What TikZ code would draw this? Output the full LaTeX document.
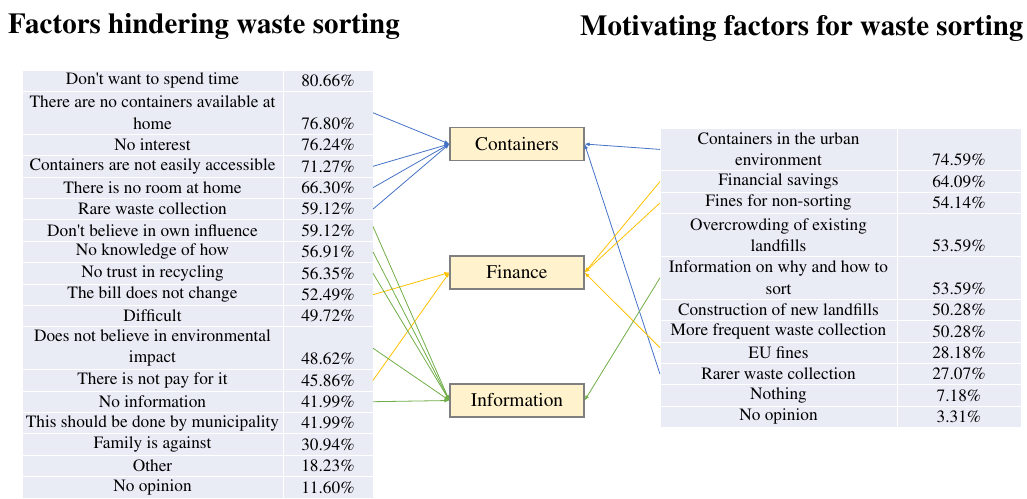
\documentclass[tikz,border=0pt]{standalone}
\usepackage[T1]{fontenc}
\usepackage{mathptmx}
\usetikzlibrary{positioning,arrows.meta}

\definecolor{cellbg}{RGB}{233,235,245}
\definecolor{boxfill}{RGB}{255,242,204}
\definecolor{boxline}{RGB}{127,127,127}
\definecolor{arrblue}{RGB}{68,114,196}
\definecolor{arryellow}{RGB}{255,192,0}
\definecolor{arrgreen}{RGB}{112,173,71}

\newcommand{\tabfont}{\fontsize{17.3}{21.4}\selectfont}
\newcommand{\boxfont}{\fontsize{19.3}{22}\selectfont}
\newcommand{\headfont}{\fontsize{29}{32}\selectfont\bfseries}

\tikzset{
  cell/.style={rectangle, fill=cellbg, draw=white, line width=1pt, inner sep=0pt, outer sep=0pt, align=center, font=\tabfont, minimum height=21.4pt},
  hcell/.style={cell, minimum width=261pt},
  hval/.style={cell, minimum width=90pt},
  mcell/.style={cell, minimum width=237pt},
  mval/.style={cell, minimum width=124pt},
  tall/.style={minimum height=42.8pt},
  factor/.style={rectangle, fill=boxfill, draw=boxline, line width=1.2pt, minimum width=134pt, minimum height=33pt, font=\boxfont},
  link/.style={-{Latex[length=5pt,width=4pt]}, line width=0.8pt},
}

\begin{document}
\begin{tikzpicture}[x=1pt,y=-1pt]
\useasboundingbox (0,0) rectangle (1027,498);

% Headings
\node[anchor=base west, font=\headfont, inner sep=0pt] (hhead) at (8,33) {Factors hindering waste sorting};
\node[anchor=base west, font=\headfont, inner sep=0pt] (mhead) at (580,35) {Motivating factors for waste sorting};

% Left table, reasons
\node[hcell, anchor=north west] (h1) at (22,70) {Don\textquotesingle t want to spend time};
\node[hcell, tall, below=0pt of h1] (h2) {There are no containers available at\\home};
\node[hcell, below=0pt of h2] (h3) {No interest};
\node[hcell, below=0pt of h3] (h4) {Containers are not easily accessible};
\node[hcell, below=0pt of h4] (h5) {There is no room at home};
\node[hcell, below=0pt of h5] (h6) {Rare waste collection};
\node[hcell, below=0pt of h6] (h7) {Don\textquotesingle t believe in own influence};
\node[hcell, below=0pt of h7] (h8) {No knowledge of how};
\node[hcell, below=0pt of h8] (h9) {No trust in recycling};
\node[hcell, below=0pt of h9] (h10) {The bill does not change};
\node[hcell, below=0pt of h10] (h11) {Difficult};
\node[hcell, tall, below=0pt of h11] (h12) {Does not believe in environmental\\impact};
\node[hcell, below=0pt of h12] (h13) {There is not pay for it};
\node[hcell, below=0pt of h13] (h14) {No information};
\node[hcell, below=0pt of h14] (h15) {This should be done by municipality};
\node[hcell, below=0pt of h15] (h16) {Family is against};
\node[hcell, below=0pt of h16] (h17) {Other};
\node[hcell, below=0pt of h17] (h18) {No opinion};

% Left table, shares
\node[hval, right=0pt of h1] (hv1) {80.66\%};
\node[hval, tall, right=0pt of h2] (hv2) {\vphantom{h}\\76.80\%};
\node[hval, right=0pt of h3] (hv3) {76.24\%};
\node[hval, right=0pt of h4] (hv4) {71.27\%};
\node[hval, right=0pt of h5] (hv5) {66.30\%};
\node[hval, right=0pt of h6] (hv6) {59.12\%};
\node[hval, right=0pt of h7] (hv7) {59.12\%};
\node[hval, right=0pt of h8] (hv8) {56.91\%};
\node[hval, right=0pt of h9] (hv9) {56.35\%};
\node[hval, right=0pt of h10] (hv10) {52.49\%};
\node[hval, right=0pt of h11] (hv11) {49.72\%};
\node[hval, tall, right=0pt of h12] (hv12) {\vphantom{h}\\48.62\%};
\node[hval, right=0pt of h13] (hv13) {45.86\%};
\node[hval, right=0pt of h14] (hv14) {41.99\%};
\node[hval, right=0pt of h15] (hv15) {41.99\%};
\node[hval, right=0pt of h16] (hv16) {30.94\%};
\node[hval, right=0pt of h17] (hv17) {18.23\%};
\node[hval, right=0pt of h18] (hv18) {11.60\%};

% Right table, motivations
\node[mcell, tall, anchor=north west] (m1) at (660,128) {Containers in the urban\\environment};
\node[mcell, below=0pt of m1] (m2) {Financial savings};
\node[mcell, below=0pt of m2] (m3) {Fines for non-sorting};
\node[mcell, tall, below=0pt of m3] (m4) {Overcrowding of existing\\landfills};
\node[mcell, tall, below=0pt of m4] (m5) {Information on why and how to\\sort};
\node[mcell, below=0pt of m5] (m6) {Construction of new landfills};
\node[mcell, below=0pt of m6] (m7) {More frequent waste collection};
\node[mcell, below=0pt of m7] (m8) {EU fines};
\node[mcell, below=0pt of m8] (m9) {Rarer waste collection};
\node[mcell, below=0pt of m9] (m10) {Nothing};
\node[mcell, below=0pt of m10] (m11) {No opinion};

% Right table, shares
\node[mval, tall, right=0pt of m1] (mv1) {\vphantom{h}\\74.59\%};
\node[mval, right=0pt of m2] (mv2) {64.09\%};
\node[mval, right=0pt of m3] (mv3) {54.14\%};
\node[mval, tall, right=0pt of m4] (mv4) {\vphantom{h}\\53.59\%};
\node[mval, tall, right=0pt of m5] (mv5) {\vphantom{h}\\53.59\%};
\node[mval, right=0pt of m6] (mv6) {50.28\%};
\node[mval, right=0pt of m7] (mv7) {50.28\%};
\node[mval, right=0pt of m8] (mv8) {28.18\%};
\node[mval, right=0pt of m9] (mv9) {27.07\%};
\node[mval, right=0pt of m10] (mv10) {7.18\%};
\node[mval, right=0pt of m11] (mv11) {3.31\%};

% Groups in the middle
\node[factor] (containers) at (517,144) {Containers};
\node[factor] (finance) at (517,272.5) {Finance};
\node[factor] (information) at (517,400.5) {Information};

% Hindering reasons -> groups
\draw[link, arrblue] (hv2.east) -- (containers.west);
\draw[link, arrblue] (hv4.east) -- (containers.west);
\draw[link, arrblue] (hv5.east) -- (containers.west);
\draw[link, arrblue] (hv6.east) -- (containers.west);
\draw[link, arryellow] (hv10.east) -- (finance.west);
\draw[link, arryellow] (hv13.east) -- (finance.west);
\draw[link, arrgreen] ([yshift=4pt]hv7.east) -- (information.west);
\draw[link, arrgreen] (hv8.east) -- (information.west);
\draw[link, arrgreen] (hv9.east) -- (information.west);
\draw[link, arrgreen] (hv12.east) -- (information.west);
\draw[link, arrgreen] (hv14.east) -- (information.west);

% Motivations -> groups
\draw[link, arrblue] (m1.west) -- (containers.east);
\draw[link, arrblue] (m9.west) -- (containers.east);
\draw[link, arryellow] (m2.west) -- (finance.east);
\draw[link, arryellow] (m3.west) -- (finance.east);
\draw[link, arryellow] ([yshift=5pt]m8.west) -- (finance.east);
\draw[link, arrgreen] (m5.west) -- (information.east);
\end{tikzpicture}
\end{document}
